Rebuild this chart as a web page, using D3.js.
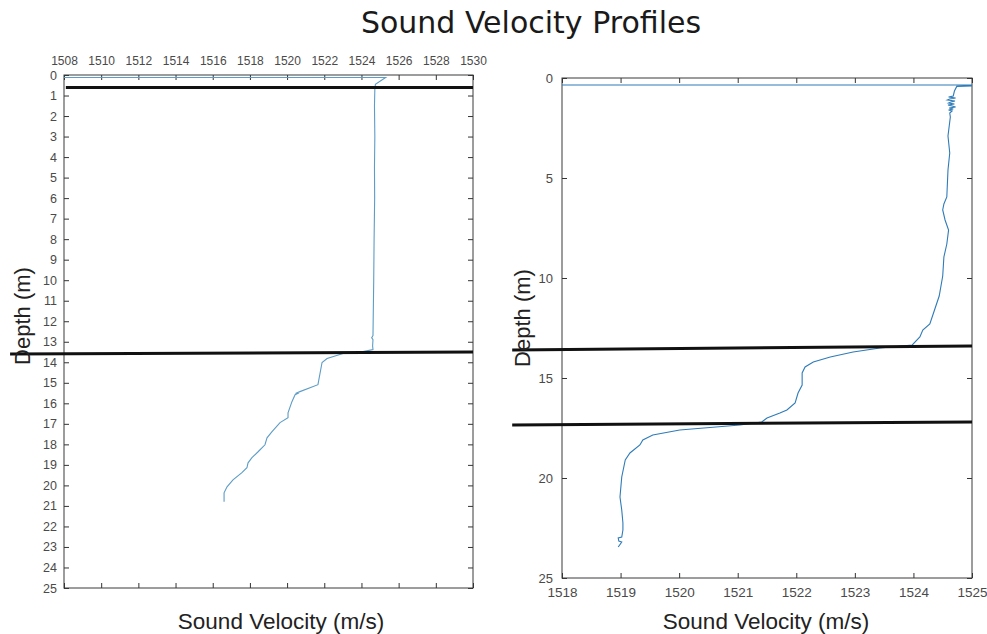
<!DOCTYPE html>
<html>
<head>
<meta charset="utf-8">
<script src="https://cdn.jsdelivr.net/npm/d3@7"></script>
<style>
  html, body { margin: 0; padding: 0; background: #fff; }
  svg { display: block; }
  .tick text { font-family: "Liberation Sans", Arial, sans-serif; fill: #4a4a4a; }
  .tick line { stroke: #333; }
</style>
</head>
<body>
<svg id="chart" width="987" height="634"></svg>
<script>
// ---------- data ----------
const leftVelTicks = [1508,1510,1512,1514,1516,1518,1520,1522,1524,1526,1528,1530];
const leftDepthTicks = d3.range(0, 26, 1);
const rightVelTicks = [1518,1519,1520,1521,1522,1523,1524,1525];
const rightDepthTicks = [0,5,10,15,20,25];

// left profile: [velocity, depth]
const leftVelocity = [1500,1525.3,1524.75,1524.72,1524.70,1524.72,1524.70,1524.71,1524.68,1524.66,1524.63,1524.62,1524.55,1524.62,1524.60,1524.62,
  1524.08,1523.01,1522.15,1521.88,1521.66,1520.69,1520.50,1520.58,1520.43,1520.26,1520.05,1520.05,1519.62,1519.19,1518.92,1518.81,1518.44,1518.11,1517.90,1517.84,1517.57,1517.09,1516.77,1516.61,1516.61];
const leftDepth = [0.12,0.12,0.45,0.7,1.5,3.0,4.5,6.0,8.0,10.0,12.0,12.7,12.8,12.9,13.2,13.38,
  13.48,13.57,13.82,14.01,15.09,15.43,15.50,15.52,15.58,15.92,16.46,16.70,16.94,17.38,17.68,18.02,18.36,18.65,18.90,19.14,19.38,19.73,20.07,20.36,20.80];

// right profile: [velocity, depth]
const rightVelocity = [1510,1525.4,1524.74,1524.70,1524.68,1524.60,1524.72,1524.62,1524.58,1524.71,1524.64,1524.60,1524.70,1524.59,1524.66,1524.72,1524.61,1524.68,1524.60,1524.66,1524.62,1524.63,
  1524.59,1524.62,1524.59,1524.57,1524.52,1524.50,1524.54,1524.60,1524.57,1524.52,1524.50,1524.44,1524.36,1524.28,1524.16,1524.11,1523.98,
  1523.43,1522.97,1522.58,1522.29,1522.15,1522.10,1522.10,1522.03,1521.98,1521.84,1521.72,1521.50,1521.41,1521.04,1520.01,1519.55,1519.38,1519.33,
  1519.16,1519.08,1519.02,1518.99,1519.02,1519.04,1519.04,1519.02,1518.96,1518.97,1519.02,1518.96];
const rightDepth = [0.35,0.35,0.42,0.65,0.9,0.95,1.0,1.05,1.1,1.15,1.2,1.25,1.3,1.35,1.4,1.45,1.5,1.55,1.6,1.65,1.75,1.95,
  2.9,3.75,4.6,5.95,6.3,6.6,7.1,7.6,8.3,8.95,9.9,10.9,11.6,12.3,12.6,12.95,13.35,
  13.5,13.7,13.95,14.2,14.45,14.75,15.35,15.75,16.25,16.6,16.75,17.0,17.2,17.35,17.6,17.85,18.1,18.35,
  18.75,19.1,19.95,20.95,21.6,22.25,22.6,22.95,23.0,23.15,23.2,23.45];

// black annotation lines: start/end velocity and depth
const leftLineVel = [[1508.1,1530],[1505.1,1530]];
const leftLineDepth = [[0.61,0.61],[13.6,13.5]];
const rightLineVel = [[1517.15,1525],[1517.15,1525]];
const rightLineDepth = [[13.6,13.4],[17.35,17.2]];

// ---------- drawing ----------
const svg = d3.select("#chart");

svg.append("text").attr("x", 531).attr("y", 33).attr("text-anchor", "middle")
  .attr("font-family", "DejaVu Sans, sans-serif").attr("font-size", 30).attr("fill", "#1a1a1a")
  .text("Sound Velocity Profiles");

function panel(cfg) {
  const x = d3.scaleLinear().domain(cfg.xDomain).range(cfg.xRange);
  const y = d3.scaleLinear().domain([0, 25]).range(cfg.yRange);
  const g = svg.append("g");
  const [x0, x1] = cfg.xRange, [y0, y1] = cfg.yRange;

  const clipId = "clip" + cfg.id;
  svg.append("clipPath").attr("id", clipId).append("rect")
    .attr("x", x0).attr("y", y0).attr("width", x1 - x0).attr("height", y1 - y0);

  function addAxis(axis, tx, ty, labels, fs) {
    const a = g.append("g").attr("transform", `translate(${tx},${ty})`).call(axis);
    a.select(".domain").remove();
    a.selectAll(".tick text").attr("font-size", fs);
    if (!labels) a.selectAll(".tick text").remove();
    return a;
  }
  const ts = -5;
  if (cfg.xTop) {
    addAxis(d3.axisTop(x).tickValues(cfg.xTicks).tickFormat(d3.format("d")).tickSize(ts).tickPadding(10), 0, y0, true, 12);
    addAxis(d3.axisBottom(x).tickValues(cfg.xTicks).tickSize(ts), 0, y1, false, 11);
  } else {
    addAxis(d3.axisBottom(x).tickValues(cfg.xTicks).tickFormat(d3.format("d")).tickSize(ts).tickPadding(9), 0, y1, true, 13.5);
    addAxis(d3.axisTop(x).tickValues(cfg.xTicks).tickSize(ts), 0, y0, false, 11);
  }
  addAxis(d3.axisLeft(y).tickValues(cfg.yTicks).tickSize(ts).tickPadding(cfg.yPad), x0, 0, true, cfg.yFont);
  addAxis(d3.axisRight(y).tickValues(cfg.yTicks).tickSize(ts), x1, 0, false, 11);

  g.append("rect").attr("x", x0).attr("y", y0).attr("width", x1 - x0).attr("height", y1 - y0)
    .attr("fill", "none").attr("stroke", "#3a3a3a").attr("stroke-width", 1);

  const pts = cfg.vel.map((v, i) => [v, cfg.dep[i]]);
  g.append("path").attr("clip-path", `url(#${clipId})`)
    .attr("d", d3.line().x(p => x(p[0])).y(p => y(p[1]))(pts))
    .attr("fill", "none").attr("stroke", cfg.color).attr("stroke-width", 1.1);

  cfg.lineVel.forEach((lv, i) => {
    g.append("line")
      .attr("x1", x(lv[0])).attr("x2", x(lv[1]))
      .attr("y1", y(cfg.lineDep[i][0])).attr("y2", y(cfg.lineDep[i][1]))
      .attr("stroke", "#111").attr("stroke-width", 3);
  });

  g.append("text").attr("transform", `translate(${cfg.yLabelX},${cfg.yLabelY}) rotate(-90)`)
    .attr("text-anchor", "middle").attr("dy", "0.35em")
    .attr("font-family", "Liberation Sans, Arial, sans-serif").attr("font-size", 22).attr("fill", "#222")
    .text("Depth (m)");
  g.append("text").attr("x", cfg.xLabelX).attr("y", 629).attr("text-anchor", "middle")
    .attr("font-family", "Liberation Sans, Arial, sans-serif").attr("font-size", 22.5).attr("fill", "#222")
    .text("Sound Velocity (m/s)");
}

panel({ id: "L", xDomain: [1508, 1530], xRange: [64, 473], yRange: [75, 588], xTop: true,
  xTicks: leftVelTicks, yTicks: leftDepthTicks, vel: leftVelocity, dep: leftDepth, yPad: 7, yFont: 12.5,
  lineVel: leftLineVel, lineDep: leftLineDepth, color: "#5d9cc6", yLabelX: 22, yLabelY: 316, xLabelX: 281 });

panel({ id: "R", xDomain: [1518, 1525], xRange: [562, 972], yRange: [78, 578], xTop: false,
  xTicks: rightVelTicks, yTicks: rightDepthTicks, vel: rightVelocity, dep: rightDepth, yPad: 9, yFont: 13,
  lineVel: rightLineVel, lineDep: rightLineDepth, color: "#2f7bb8", yLabelX: 522, yLabelY: 318, xLabelX: 766 });
</script>
</body>
</html>
